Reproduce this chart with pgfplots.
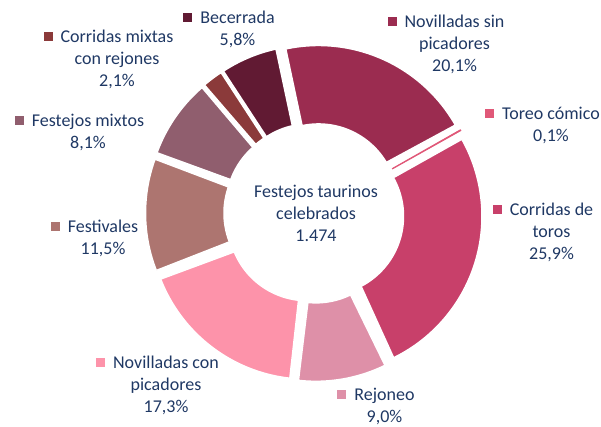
\documentclass[border=0pt]{standalone}
\usepackage{fontspec}
\setmainfont{Carlito}
\usepackage{pgfplots}
\pgfplotsset{compat=1.18}
\usepackage{pgfplotstable}
\definecolor{navy}{HTML}{1F3864}
\definecolor{cNsp}{RGB}{155,44,80}
\definecolor{cTc}{RGB}{224,88,120}
\definecolor{cCt}{RGB}{200,64,106}
\definecolor{cRe}{RGB}{222,144,168}
\definecolor{cNcp}{RGB}{253,147,170}
\definecolor{cFe}{RGB}{173,117,112}
\definecolor{cFm}{RGB}{144,94,110}
\definecolor{cCm}{RGB}{139,58,58}
\definecolor{cBe}{RGB}{97,26,51}
\tikzset{lab/.style={align=center,text=navy,font=\fontsize{18bp}{22bp}\selectfont,inner sep=0pt}}

\pgfplotstableread{
value color
20.1 cNsp
0.1 cTc
25.9 cCt
9.0 cRe
17.3 cNcp
11.5 cFe
8.1 cFm
2.1 cCm
5.8 cBe
}\datatable

\newcommand\drawslices{%
  \pgfplotstablegetrowsof{\datatable}%
  \pgfmathtruncatemacro\nrows{\pgfplotsretval-1}%
  \xdef\cum{-12}%
  \foreach \i in {0,...,\nrows}{%
    \pgfplotstablegetelem{\i}{value}\of\datatable \let\val\pgfplotsretval
    \pgfplotstablegetelem{\i}{color}\of\datatable \let\col\pgfplotsretval
    \pgfmathsetmacro\a{\cum}%
    \pgfmathsetmacro\w{3.6*\val}%
    \pgfmathsetmacro\b{\cum+\w}%
    \pgfmathsetmacro\m{(\a+\b)/2}%
    \pgfmathsetmacro\ox{314+11*sin(\m)}%
    \pgfmathsetmacro\oy{214+11*cos(\m)}%
    \xdef\cum{\b}%
    \ifdim\val pt<1pt \edef\bstyle{draw=\col,line width=0.8bp}\else\def\bstyle{draw=white,line width=1.5bp}\fi
    \edef\tmp{\noexpand\addplot[fill=\col,\bstyle,line join=round,domain=0:3,samples=181,variable=\noexpand\t]
      ({\ox+((\noexpand\t<=1.005)?157.5:((\noexpand\t<=2.005)?79:(79+(\noexpand\t-2)*78.5)))*sin((\noexpand\t<=1.005)?((\a)+\noexpand\t*(\w)):((\noexpand\t<=2.005)?((\b)-(\noexpand\t-1)*(\w)):(\a)))},
       {\oy+((\noexpand\t<=1.005)?157.5:((\noexpand\t<=2.005)?79:(79+(\noexpand\t-2)*78.5)))*cos((\noexpand\t<=1.005)?((\a)+\noexpand\t*(\w)):((\noexpand\t<=2.005)?((\b)-(\noexpand\t-1)*(\w)):(\a)))});}%
    \tmp
  }%
}
\newcommand\key[1]{\llap{\textcolor{#1}{\rule[1.2bp]{9bp}{9bp}}\hspace{8bp}}}

\begin{document}
\begin{tikzpicture}
\begin{axis}[x=1bp,y=1bp,xmin=0,xmax=601,ymin=0,ymax=427,hide axis,clip=false]
\drawslices
\node[lab] at (axis cs:316,214) {Festejos taurinos\\celebrados\\1.474};
\node[lab] at (axis cs:237.5,398) {\key{cBe}Becerrada\\5,8\%};
\node[lab] at (axis cs:454.5,383) {\key{cNsp}Novilladas sin\\picadores\\20,1\%};
\node[lab] at (axis cs:551,301.5) {\key{cTc}Toreo cómico\\0,1\%};
\node[lab] at (axis cs:551.5,195) {\key{cCt}Corridas de\\toros\\25,9\%};
\node[lab] at (axis cs:384.5,20.5) {\key{cRe}Rejoneo\\9,0\%};
\node[lab] at (axis cs:166,42) {\key{cNcp}Novilladas con\\picadores\\17,3\%};
\node[lab] at (axis cs:103,188.5) {\key{cFe}Festivales\\11,5\%};
\node[lab] at (axis cs:88,294.5) {\key{cFm}Festejos mixtos\\8,1\%};
\node[lab] at (axis cs:117,368) {\key{cCm}Corridas mixtas\\con rejones\\2,1\%};
\end{axis}
\pgfresetboundingbox
\path (0,0) rectangle (601bp,427bp);
\end{tikzpicture}
\end{document}
